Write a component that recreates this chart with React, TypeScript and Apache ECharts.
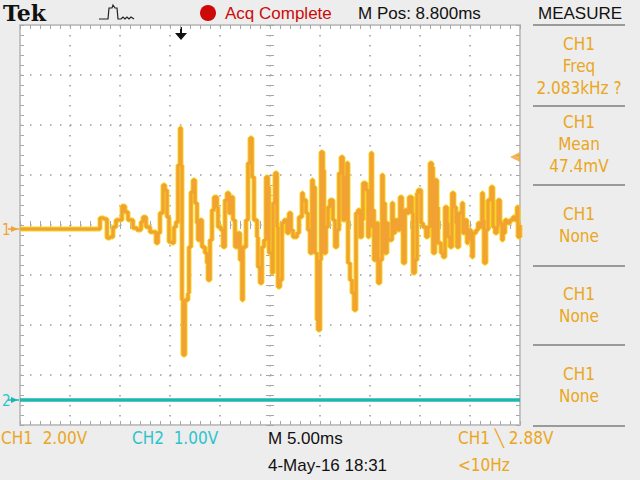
import React, { useEffect, useRef } from "react";
import * as echarts from "echarts";

// CH1 trace: time (ms) and voltage (V)
const ch1Time = [0, 7.5, 8.0, 8.4, 8.7, 9.0, 9.3, 9.6, 10.2, 10.5, 10.8, 11.3, 11.7, 12.1, 12.3, 12.6, 13.0, 13.3, 13.6, 13.8,
  14.0, 14.3, 14.5, 14.7, 14.9, 15.2, 15.4, 15.6, 15.8, 16.0, 16.1, 16.2, 16.3, 16.5, 16.8, 16.9, 17.1, 17.3, 17.5, 17.7,
  17.8, 18.0, 18.2, 18.5, 18.7, 18.8, 19.0, 19.2, 19.4, 19.7, 19.8, 20.1, 20.3, 20.5, 20.7, 20.9, 21.1, 21.3, 21.5, 21.8,
  22.0, 22.2, 22.3, 22.6, 22.8, 23.0, 23.2, 23.4, 23.7, 23.8, 24.0, 24.2, 24.4, 24.6, 24.8, 24.9, 25.2, 25.3, 25.5, 25.7,
  25.8, 26.0, 26.2, 26.4, 26.7, 26.9, 27.1, 27.3, 27.7, 27.9, 28.2, 28.3, 28.6, 28.8, 29.0, 29.2, 29.3, 29.5, 29.7, 29.8,
  30.0, 30.1, 30.3, 30.4, 30.6, 30.8, 31.0, 31.3, 31.5, 31.7, 31.9, 32.1, 32.3, 32.5, 32.7, 32.8, 33.0, 33.2, 33.4, 33.6,
  33.8, 34.0, 34.2, 34.3, 34.6, 34.8, 34.9, 35.1, 35.2, 35.4, 35.7, 35.8, 36.0, 36.2, 36.3, 36.5, 36.7, 36.8, 37.2, 37.3,
  37.5, 37.8, 38.0, 38.2, 38.3, 38.5, 38.7, 38.9, 39.2, 39.3, 39.5, 39.7, 39.8, 40.1, 40.3, 40.6, 40.8, 41.0, 41.2, 41.3,
  41.5, 41.7, 41.8, 42.1, 42.3, 42.5, 42.7, 42.8, 43.0, 43.2, 43.4, 43.6, 43.7, 43.9, 44.2, 44.3, 44.5, 44.7, 44.8, 45.1,
  45.2, 45.3, 45.6, 45.8, 46.0, 46.2, 46.3, 46.4, 46.6, 46.8, 47.1, 47.3, 47.5, 47.7, 47.8, 48.0, 48.2, 48.3, 48.5, 48.7,
  49.0, 49.3, 49.5, 49.7, 49.8, 50.0];
const ch1Volts = [0, 0, 0.44, 0.40, -0.36, -0.32, 0.08, 0.36, 0.92, 0.68, 0.36, 0.04, -0.04, 0.28, 0.48, 0.08, -0.12, -0.12, -0.56, -0.16,
  0.64, 1.76, 1.56, 0.48, -0.52, -0.56, 0.08, 0.28, 2.56, 4.04, 2.56, -2.84, -5.04, -2.84, -2.56, -0.72, 1.48, 1.96, 1.04, 0.24,
  -0.44, 0.36, -0.72, -0.96, -1.36, -2.04, -0.44, 0.76, 1.28, 0.88, 0.08, -0.04, -0.72, 1.16, 1.44, 0.64, 1.28, 0.36, -0.72, -0.16,
  -1.24, -2.84, -0.72, 0.36, 2.64, 3.64, 2.08, 0.36, -0.32, -1.52, -2.16, -0.72, -0.44, 2.08, 1.68, -0.96, -1.76, 1.04, 2.24, 0.08,
  -2.32, -2.04, 0.24, 0.36, -0.16, 0.64, -0.04, -0.32, -0.16, 0.48, 1.44, 1.16, 0.64, -0.04, -0.96, 1.96, 1.68, -0.96, -3.64, -4.04,
  -1.24, 3.08, 2.36, -0.96, 0.08, 0.88, 1.16, 0.36, -0.72, -0.04, 2.24, 2.88, 0.36, 2.08, 2.64, -1.36, -2.04, -2.56, -3.24, 0.64,
  0.76, -0.32, 0.36, 1.84, 1.56, -0.32, 0.08, 3.04, 0.76, -1.24, 0.24, -2.16, -1.24, 2.16, 1.04, -0.96, 0.24, -0.44, 1.04, -0.16,
  0.36, -0.04, 1.28, 0.64, -1.36, 0.76, 0.64, 1.28, 0.64, -1.76, -1.24, 1.44, 1.56, 0.24, 0.08, -0.32, 0.08, 2.64, 2.48, -0.96,
  1.96, 0.88, -0.56, -0.96, -1.12, 0.88, 0.24, -0.32, -0.72, 1.44, 0.88, 0.24, -0.72, 0.64, 1.04, -0.16, 0.36, -0.56, -0.04, -0.44,
  -1.12, -0.16, -0.04, 0.24, 0.08, 1.44, 0.36, -1.36, -0.04, 1.16, 1.68, 0.08, -0.16, 0.08, 1.16, 0.24, -0.44, -0.16, 0.36, 0.24,
  0.36, 0.48, 0.36, 0.88, -0.32, 0.16];

// CH2 trace
const ch2Time = [0, 50];
const ch2Volts = [0, 0];

// readouts
const topTexts = { brand: "Tek", acq: "Acq Complete", mpos: "M Pos: 8.800ms", measure: "MEASURE" };
const measureBlocks = [
  ["CH1", "Freq", "2.083kHz ?"],
  ["CH1", "Mean", "47.4mV"],
  ["CH1", "None"],
  ["CH1", "None"],
  ["CH1", "None"],
];
const bottomTexts = { ch1: "CH1  2.00V", ch2: "CH2  1.00V", timebase: "M 5.00ms", date: "4-May-16 18:31", trig: "CH1 \u2572 2.88V", freq: "<10Hz" };
const triggerLevel = 2.88;

const ORANGE = "#F2A233";
const YELLOW = "#F7D81E";
const TEXT_OR = "#EBA620";
const TEAL = "#1DB6B0";
const TEAL_TXT = "#2CC4CC";
const NARROW = '"Liberation Sans Narrow", "DejaVu Sans Condensed", "Liberation Sans", sans-serif';
const SANS = '"Liberation Sans", Arial, sans-serif';

export default function App() {
  const ref = useRef<HTMLDivElement>(null);
  useEffect(() => {
    if (!ref.current) return;
    const chart = echarts.init(ref.current, undefined, { renderer: "svg" });
    const ch1 = ch1Time.map((t, i) => [t, ch1Volts[i]]);
    const ch2 = ch2Time.map((t, i) => [t, ch2Volts[i]]);

    const gridGray = "#9c9c9c";
    const tickStyle = { color: "#a8a8a8", width: 1 };
    const baseX = (extra: any) => ({
      type: "value", min: 0, max: 50, interval: 5, gridIndex: 0,
      axisLabel: { show: false },
      axisLine: { show: true, onZero: false, lineStyle: { color: "#c4c4c4", width: 2 } },
      axisTick: { show: true, inside: true, length: 4, lineStyle: tickStyle },
      minorTick: { show: true, splitNumber: 5, length: 4, lineStyle: tickStyle },
      splitLine: { show: false },
      ...extra,
    });
    const baseY = (extra: any) => ({
      type: "value", min: -4, max: 4, interval: 1, gridIndex: 0,
      axisLabel: { show: false },
      axisLine: { show: true, onZero: false, lineStyle: { color: "#c4c4c4", width: 2 } },
      axisTick: { show: true, inside: true, length: 4, lineStyle: tickStyle },
      minorTick: { show: true, splitNumber: 5, length: 4, lineStyle: tickStyle },
      splitLine: { show: false },
      ...extra,
    });

    const graphics: any[] = [];
    const txt = (text: string, x: number, y: number, fill: string, font: string, align = "left") =>
      graphics.push({ type: "text", x, y, silent: true, style: { text, fill, font, textAlign: align, textVerticalAlign: "middle" } });

    // top bar
    txt(topTexts.brand, 3, 13, "#111", 'bold 22px "DejaVu Serif", serif');
    graphics.push({ type: "polyline", shape: { points: [[99, 19], [108, 19], [109, 8], [112, 8], [113, 5], [115, 8], [117, 8], [118, 19], [121, 19], [123, 17], [125, 19], [127, 17], [129, 19], [131, 17], [134, 19]] }, style: { stroke: "#222", lineWidth: 1.2, fill: null } });
    graphics.push({ type: "circle", shape: { cx: 208, cy: 13, r: 8 }, style: { fill: "#CC0A0A" } });
    txt(topTexts.acq, 225, 13, "#CC0A0A", `17px ${SANS}`);
    txt(topTexts.mpos, 358, 13, "#111", `17px ${SANS}`);
    txt(topTexts.measure, 580, 13, "#111", `17px ${SANS}`, "center");
    // trigger position arrow
    graphics.push({ type: "line", shape: { x1: 181, y1: 27, x2: 181, y2: 36 }, style: { stroke: "#111", lineWidth: 2 } });
    graphics.push({ type: "polygon", shape: { points: [[175, 33], [187, 33], [181, 40]] }, style: { fill: "#111" } });

    // channel ground markers
    txt("1", 2, 230, ORANGE, `15px ${NARROW}`);
    graphics.push({ type: "polygon", shape: { points: [[11, 226], [18, 229], [11, 232]] }, style: { fill: ORANGE } });
    graphics.push({ type: "line", shape: { x1: 8, y1: 229, x2: 20, y2: 229 }, style: { stroke: ORANGE, lineWidth: 1.5 } });
    txt("2", 2, 401, TEAL_TXT, `15px ${NARROW}`);
    graphics.push({ type: "polygon", shape: { points: [[11, 397], [18, 400], [11, 403]] }, style: { fill: TEAL } });
    graphics.push({ type: "line", shape: { x1: 8, y1: 400, x2: 20, y2: 400 }, style: { stroke: TEAL, lineWidth: 1.5 } });

    // measure panel
    const seps = [25, 106, 185, 266, 345, 426];
    seps.forEach((y) => graphics.push({ type: "line", shape: { x1: 533, y1: y, x2: 625, y2: y }, style: { stroke: "#9a9a9a", lineWidth: 2 } }));
    const blockCenters = [66, 144, 225, 305, 385];
    measureBlocks.forEach((lines, bi) => {
      const c = blockCenters[bi];
      const start = c - ((lines.length - 1) * 22) / 2;
      lines.forEach((l, li) => txt(l, 579, start + li * 22, TEXT_OR, `17px ${NARROW}`, "center"));
    });

    // bottom readouts
    txt(bottomTexts.ch1, 1, 438, TEXT_OR, `17px ${NARROW}`);
    txt(bottomTexts.ch2, 132, 438, TEAL_TXT, `17px ${NARROW}`);
    txt(bottomTexts.timebase, 268, 438, "#111", `17px ${SANS}`);
    txt(bottomTexts.date, 268, 465, "#111", `17px ${SANS}`);
    txt(bottomTexts.trig, 458, 438, TEXT_OR, `17px ${NARROW}`);
    txt(bottomTexts.freq, 458, 465, TEXT_OR, `17px ${NARROW}`);

    const option: any = {
      animation: false,
      backgroundColor: "#EDEDED",
      grid: { left: 20, top: 25, width: 500, height: 400, show: true, backgroundColor: "#ffffff", borderWidth: 0 },
      xAxis: [
        baseX({ position: "bottom", splitLine: { show: true, lineStyle: { color: gridGray, width: 1.5, type: [1.5, 8.5] } } }),
        baseX({ position: "top" }),
        baseX({ position: "bottom", offset: -200, axisLine: { show: false } }),
        baseX({ position: "bottom", offset: -200, axisLine: { show: false }, axisTick: { show: true, inside: false, length: 4, lineStyle: tickStyle } }),
      ],
      yAxis: [
        baseY({ position: "left", splitLine: { show: true, lineStyle: { color: gridGray, width: 1.5, type: [1.5, 8.5] } } }),
        baseY({ position: "right" }),
        baseY({ position: "left", offset: -250, axisLine: { show: false } }),
        baseY({ position: "left", offset: -250, axisLine: { show: false }, axisTick: { show: true, inside: false, length: 4, lineStyle: tickStyle } }),
        { type: "value", gridIndex: 0, min: -7.84, max: 8.16, show: false },
        { type: "value", gridIndex: 0, min: -0.5, max: 7.5, show: false },
      ],
      series: [
        { type: "line", xAxisIndex: 0, yAxisIndex: 5, data: ch2, symbol: "none", lineStyle: { color: TEAL, width: 3.5 }, z: 3 },
        { type: "line", xAxisIndex: 0, yAxisIndex: 4, data: ch1, step: "end", symbol: "none", lineStyle: { color: YELLOW, width: 5 }, z: 4 },
        { type: "line", xAxisIndex: 0, yAxisIndex: 4, data: ch1, step: "end", symbol: "none", lineStyle: { color: ORANGE, width: 3.2 }, z: 5 },
        { type: "scatter", xAxisIndex: 0, yAxisIndex: 4, data: [[50, triggerLevel]], symbol: "triangle", symbolRotate: 90, symbolSize: [10, 10], symbolOffset: [-5, 0], itemStyle: { color: ORANGE }, z: 6, silent: true },
      ],
      graphic: graphics,
    };
    chart.setOption(option);
    return () => chart.dispose();
  }, []);
  return <div ref={ref} style={{ position: "fixed", left: 0, top: 0, width: 640, height: 480 }} />;
}
